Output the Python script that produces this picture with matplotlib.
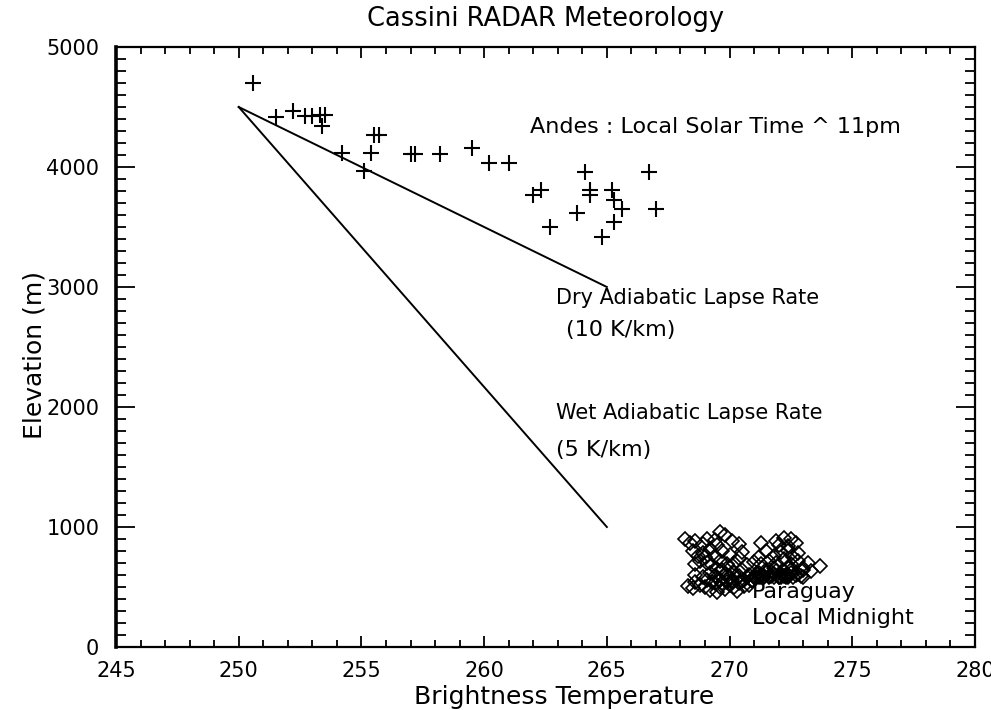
import matplotlib
matplotlib.use("Agg")
import matplotlib.pyplot as plt
from matplotlib.ticker import MultipleLocator

# Andes (plus markers)
andes_t = [250.6, 251.5, 252.2, 252.7, 253.0, 253.3, 253.5, 253.4, 255.5, 255.7,
           254.2, 255.4, 255.1, 257.0, 257.2, 258.2, 259.5, 260.2, 261.0, 264.1,
           266.7, 262.0, 262.3, 264.3, 264.3, 265.2, 265.3, 265.6, 267.0, 263.8,
           265.3, 262.7, 264.8]
andes_h = [4700, 4420, 4470, 4425, 4425, 4435, 4435, 4345, 4270, 4270,
           4120, 4120, 3965, 4110, 4110, 4110, 4155, 4030, 4035, 3955,
           3955, 3765, 3805, 3805, 3765, 3805, 3725, 3650, 3650, 3615,
           3540, 3500, 3420]

# Paraguay (diamond markers)
para_t = [268.2, 268.4, 268.6, 268.9, 269.1, 269.4, 269.6, 269.8, 269.5, 270.1, 270.4, 271.3, 271.9, 272.2, 272.5, 272.7, 272.0, 272.4,
          268.5, 268.9, 269.2, 269.4, 269.7, 270.0, 270.5, 271.5, 271.8, 272.1, 272.4, 272.8, 272.6, 269.0, 268.7, 271.2,
          268.8, 269.1, 269.3, 269.6, 269.9, 270.2, 270.4, 270.7, 271.0, 271.3, 271.6, 271.9, 272.2, 272.5, 272.8, 273.0, 273.7, 269.5, 270.0, 271.8, 272.4, 273.2, 268.6,
          268.6, 268.9, 269.2, 269.4, 269.6, 269.8, 270.0, 270.2, 270.4, 270.6, 270.8, 271.0, 271.2, 271.4, 271.6, 271.8, 272.0, 272.2, 272.4, 272.6, 272.8, 273.0, 273.3, 273.0, 269.1, 269.7, 270.5, 271.5, 272.5, 270.1, 271.1, 272.1,
          268.3, 268.5, 268.8, 269.0, 269.2, 269.4, 269.6, 269.8, 270.0, 270.2, 270.4, 270.6, 270.8, 271.0, 271.2, 271.4, 271.6, 271.8, 272.0, 272.2, 272.4, 272.7, 272.9, 269.5, 270.3, 271.3, 272.3, 268.6, 269.9, 270.9,
          269.3, 269.7, 270.1, 270.5, 270.9, 271.3, 271.7, 272.1, 272.5, 269.5, 269.9, 270.3, 270.7, 271.1, 271.5, 271.9, 272.3]
para_h = [900, 870, 880, 860, 900, 890, 960, 930, 850, 880, 860, 870, 880, 910, 900, 870, 850, 840,
          800, 780, 820, 760, 800, 770, 790, 800, 760, 790, 800, 780, 750, 750, 760, 750,
          720, 700, 680, 720, 690, 700, 740, 680, 710, 690, 720, 700, 730, 690, 720, 660, 675, 650, 660, 660, 660, 700, 690,
          600, 580, 620, 590, 560, 610, 580, 620, 590, 560, 600, 580, 620, 590, 580, 610, 585, 630, 600, 580, 610, 640, 630, 585, 560, 640, 640, 640, 640, 555, 585, 580,
          510, 490, 520, 500, 475, 530, 500, 480, 520, 500, 530, 505, 520, 580, 585, 580, 590, 585, 580, 595, 585, 600, 590, 460, 470, 580, 585, 540, 545, 550,
          545, 535, 540, 550, 560, 600, 590, 610, 620, 585, 595, 575, 580, 615, 625, 635, 600]

# Lapse-rate lines
dry_t = [250.0, 265.0]
dry_h = [4500, 3000]
wet_t = [250.0, 265.0]
wet_h = [4500, 1000]

plt.rcParams['font.family'] = 'DejaVu Sans'
fig = plt.figure(figsize=(9.91, 7.10), dpi=100)
ax = fig.add_axes([116/991, 1-647/710, 859/991, 600/710])

ax.plot(dry_t, dry_h, color='black', lw=1.4)
ax.plot(wet_t, wet_h, color='black', lw=1.4)
ax.plot(andes_t, andes_h, linestyle='none', marker='+', markersize=11, mew=1.5, color='black')
ax.plot(para_t, para_h, linestyle='none', marker='D', markersize=7, mew=1.2,
        markerfacecolor='none', markeredgecolor='black')

ax.set_xlim(245, 280)
ax.set_ylim(0, 5000)
ax.xaxis.set_major_locator(MultipleLocator(5))
ax.xaxis.set_minor_locator(MultipleLocator(1))
ax.yaxis.set_major_locator(MultipleLocator(1000))
ax.yaxis.set_minor_locator(MultipleLocator(100))
ax.tick_params(axis='both', which='both', direction='in', top=True, right=True,
               labelsize=15, width=1.3)
ax.tick_params(axis='x', which='major', length=8, pad=10)
ax.tick_params(axis='x', which='minor', length=5)
ax.tick_params(axis='y', which='major', length=14, pad=12)
ax.tick_params(axis='y', which='minor', length=7)
for s in ax.spines.values():
    s.set_linewidth(1.6)
ax.spines['left'].set_linewidth(2.6)

ax.set_title('Cassini RADAR Meteorology', fontsize=18.5, pad=15)
ax.set_xlabel('Brightness Temperature', fontsize=18, va='center')
ax.xaxis.set_label_coords((564 - 116) / 859, (647 - 697) / 600)
ax.set_ylabel('Elevation (m)', fontsize=18, va='center')
ax.yaxis.set_label_coords((35 - 116) / 859, (647 - 355) / 600)

ts = 16
ax.text(261.87, 4333, 'Andes : Local Solar Time ^ 11pm', fontsize=ts, va='center', ha='left')
ax.text(262.93, 2908, 'Dry Adiabatic Lapse Rate', fontsize=15, va='center', ha='left')
ax.text(263.34, 2642, '(10 K/km)', fontsize=ts, va='center', ha='left')
ax.text(262.93, 1950, 'Wet Adiabatic Lapse Rate', fontsize=15, va='center', ha='left')
ax.text(262.93, 1642, '(5 K/km)', fontsize=ts, va='center', ha='left')
ax.text(270.92, 460, 'Paraguay', fontsize=ts, va='center', ha='left')
ax.text(270.92, 245, 'Local Midnight', fontsize=ts, va='center', ha='left')

fig.savefig('out.png', dpi=100)
